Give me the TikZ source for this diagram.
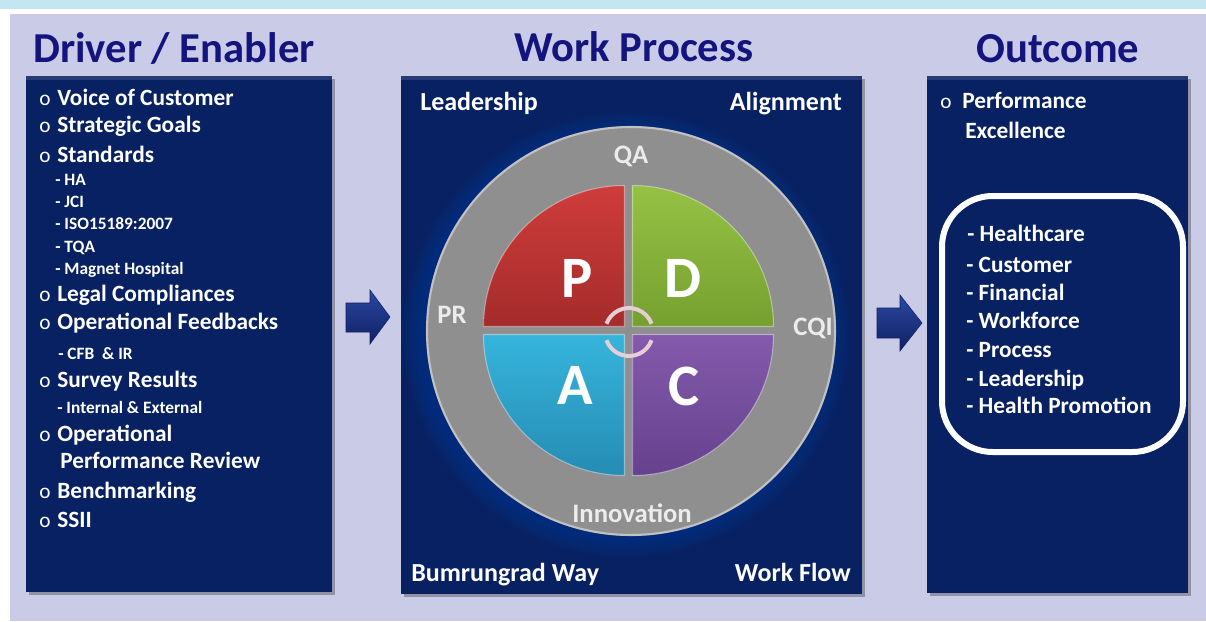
\documentclass[tikz,border=0pt]{standalone}
\usepackage{fontspec}
\setmainfont{Carlito}
\usetikzlibrary{calc}
\definecolor{bandcyan}{HTML}{C4E6F0}
\definecolor{lavender}{HTML}{CACBE7}
\definecolor{panelblue}{HTML}{082162}
\definecolor{titleblue}{HTML}{14147E}
\definecolor{ringgray}{HTML}{8F8F8F}
\definecolor{labelgray}{HTML}{ECECEC}
\definecolor{ptop}{HTML}{CE3D3C}\definecolor{pbot}{HTML}{A52B2B}
\definecolor{dtop}{HTML}{95C244}\definecolor{dbot}{HTML}{75A030}
\definecolor{atop}{HTML}{36B4DC}\definecolor{abot}{HTML}{268CB4}
\definecolor{ctop}{HTML}{845AAC}\definecolor{cbot}{HTML}{66418E}
\definecolor{arrowtop}{HTML}{2C48A2}\definecolor{arrowbot}{HTML}{0F2064}
\definecolor{cyclepink}{HTML}{E6CDD6}
\begin{document}
\begin{tikzpicture}[x=0.75pt,y=-0.75pt,
  item/.style={anchor=base west, inner sep=0, text=white, font=\fontsize{17.5}{20}\selectfont\bfseries},
  subitem/.style={anchor=base west, inner sep=0, text=white, font=\fontsize{13}{15}\selectfont\bfseries},
  bul/.style={anchor=base west, inner sep=0, text=white, font=\fontsize{16}{18}\selectfont},
  corner/.style={inner sep=0, text=white, font=\fontsize{19.5}{22}\selectfont\bfseries},
  ringlabel/.style={anchor=base, inner sep=0, text=labelgray, font=\fontsize{20}{22}\selectfont\bfseries},
  letter/.style={inner sep=0, text=white, font=\fontsize{44}{50}\selectfont\bfseries},
  heading/.style={anchor=base, inner sep=0, text=titleblue, font=\fontsize{32}{36}\selectfont\bfseries},
  panelshadow/.style={fill=black, opacity=.28},
  panel/.style={fill=panelblue},
  bigarrow/.style={top color=arrowtop, bottom color=arrowbot, draw=arrowbot, line width=.4pt},
  quarter/.style={draw=white, draw opacity=.4, line width=.8pt}
]
\useasboundingbox (0,0) rectangle (1206,621);

% background bands
\fill[white] (0,0) rectangle (1206,621);
\fill[bandcyan] (0,0) rectangle (1206,9);
\fill[lavender] (10,14) rectangle (1206,621);

% headings
\node[heading] (h1) at (174,62) {Driver / Enabler};
\node[heading] (h2) at (634,61) {Work Process};
\node[heading] (h3) at (1058,62) {Outcome};

% panels
\fill[panelshadow] (29,79) rectangle (335,595);
\fill[panel] (26,76) rectangle (332,592);
\fill[panelshadow] (404,79) rectangle (865,597);
\fill[panel] (401,76) rectangle (862,594);
\fill[panelshadow] (930,79) rectangle (1191,596);
\fill[panel] (927,76) rectangle (1188,593);
\fill[white, opacity=.12] (26,76) rectangle (332,80);
\fill[white, opacity=.12] (401,76) rectangle (862,80);
\fill[white, opacity=.12] (927,76) rectangle (1188,80);

% arrows between the panels
\draw[bigarrow] (346,303) -- (370,303) -- (370,290) -- (390,317) -- (370,344) -- (370,332) -- (346,332) -- cycle;
\draw[bigarrow] (877,308) -- (900,308) -- (900,295) -- (922,323) -- (900,351) -- (900,338) -- (877,338) -- cycle;

% left list
\node[bul] (b1) at (39,105) {o};   \node[item] (l1) at (57,105) {Voice of Customer};
\node[bul] (b2) at (39,132) {o};   \node[item] (l2) at (57,132) {Strategic Goals};
\node[bul] (b3) at (39,162) {o};   \node[item] (l3) at (57,162) {Standards};
\node[subitem] (s1) at (55,185) {- HA};
\node[subitem] (s2) at (55,207) {- JCI};
\node[subitem] (s3) at (55,229) {- ISO15189:2007};
\node[subitem] (s4) at (55,252) {- TQA};
\node[subitem] (s5) at (55,274) {- Magnet Hospital};
\node[bul] (b4) at (39,301) {o};   \node[item] (l4) at (57,301) {Legal Compliances};
\node[bul] (b5) at (39,329) {o};   \node[item] (l5) at (57,329) {Operational Feedbacks};
\node[subitem] (s6) at (58,359) {- CFB~ \& IR};
\node[bul] (b6) at (39,387) {o};   \node[item] (l6) at (57,387) {Survey Results};
\node[subitem] (s7) at (57,413) {- Internal \& External};
\node[bul] (b7) at (39,441) {o};   \node[item] (l7) at (57,441) {Operational};
\node[item] (l7b) at (60,468) {Performance Review};
\node[bul] (b8) at (39,498) {o};   \node[item] (l8) at (57,498) {Benchmarking};
\node[bul] (b9) at (39,527) {o};   \node[item] (l9) at (57,527) {SSII};

% middle panel corner words
\node[corner, anchor=base west] (c1) at (420,110) {Leadership};
\node[corner, anchor=base east] (c2) at (842,110) {Alignment};
\node[corner, anchor=base west] (c3) at (411,581) {Bumrungrad Way};
\node[corner, anchor=base east] (c4) at (851,581) {Work Flow};

% soft glow round the ring
\foreach \k in {1,...,6}
  \fill[blue!60!cyan, opacity=.03] (626,335) circle ({205+3*\k});

% grey ring
\coordinate (o) at (631,331);
\fill[ringgray] (o) circle (205);
\draw[white, opacity=.45, line width=1.6pt] (o) circle (204);

% PDCA quarters
\coordinate (q) at (628.5,330.5);
\path[quarter, top color=ptop, bottom color=pbot]
  ($(q)+(-4,-4)$) -- ++(-141,0) arc[start angle=180, end angle=270, radius=141] -- cycle;
\path[quarter, top color=dtop, bottom color=dbot]
  ($(q)+(4,-4)$) -- ++(0,-141) arc[start angle=270, end angle=360, radius=141] -- cycle;
\path[quarter, top color=atop, bottom color=abot]
  ($(q)+(-4,4)$) -- ++(-141,0) arc[start angle=180, end angle=90, radius=141] -- cycle;
\path[quarter, top color=ctop, bottom color=cbot]
  ($(q)+(4,4)$) -- ++(141,0) arc[start angle=0, end angle=90, radius=141] -- cycle;

\node[letter] (P) at (577,278) {P};
\node[letter] (D) at (683,278) {D};
\node[letter] (A) at (575,385) {A};
\node[letter] (C) at (684,386) {C};

% circular arrows in the centre
\coordinate (m) at (629,332);
\draw[cyclepink, line width=3pt] ($(m)+(200:24)$) arc[start angle=200, end angle=340, radius=24];
\draw[cyclepink, line width=3pt] ($(m)+(20:24)$) arc[start angle=20, end angle=160, radius=24];

% ring words
\node[ringlabel] (qa) at (631,163) {QA};
\node[ringlabel] (pr) at (452,323) {PR};
\node[ringlabel] (cqi) at (813,335) {CQI};
\node[ringlabel] (inn) at (632,522) {Innovation};

% right panel
\node[bul] (rb) at (940,108) {o};
\node[item] (r0) at (962,108) {Performance};
\node[item] (r0b) at (965,138) {Excellence};
\draw[white, line width=4.5pt, rounded corners=38] (942,196) rectangle (1183,452);
\node[item] (r1) at (967,241) {- Healthcare};
\node[item] (r2) at (966,272) {- Customer};
\node[item] (r3) at (966,300) {- Financial};
\node[item] (r4) at (966,328) {- Workforce};
\node[item] (r5) at (966,357) {- Process};
\node[item] (r6) at (966,386) {- Leadership};
\node[item] (r7) at (966,413) {- Health Promotion};
\end{tikzpicture}
\end{document}
